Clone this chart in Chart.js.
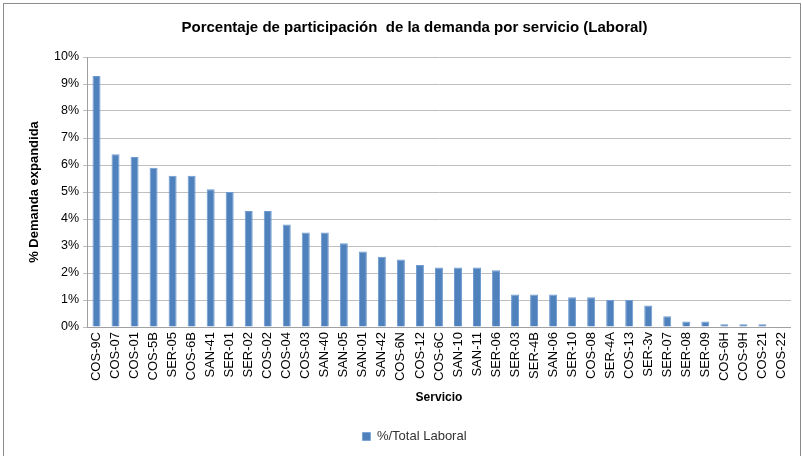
<!DOCTYPE html>
<html>
<head>
<meta charset="utf-8">
<script src="https://cdn.jsdelivr.net/npm/chart.js@4"></script>
<style>
  html, body { margin: 0; padding: 0; background: #fff; }
  #wrap { position: relative; width: 802px; height: 456px; }
  #frame { position: absolute; left: 3px; top: 3px; right: 1px; bottom: -2px; border: 1px solid #8c8c8c; pointer-events: none; }
</style>
</head>
<body>
<div id="wrap">
  <canvas id="chart" width="802" height="456"></canvas>
  <div id="frame"></div>
</div>
<script>
// Services, sorted by share of demand
const services = [
  'COS-9C', 'COS-07', 'COS-01', 'COS-5B', 'SER-05', 'COS-6B', 'SAN-41', 'SER-01',
  'SER-02', 'COS-02', 'COS-04', 'COS-03', 'SAN-40', 'SAN-05', 'SAN-01', 'SAN-42',
  'COS-6N', 'COS-12', 'COS-6C', 'SAN-10', 'SAN-11', 'SER-06', 'SER-03', 'SER-4B',
  'SAN-06', 'SER-10', 'COS-08', 'SER-4A', 'COS-13', 'SER-3v', 'SER-07', 'SER-08',
  'SER-09', 'COS-6H', 'COS-9H', 'COS-21', 'COS-22'
];

// % of total demand (Laboral)
const laboralPct = [
  9.3, 6.4, 6.3, 5.9, 5.6, 5.6, 5.1, 5.0,
  4.3, 4.3, 3.8, 3.5, 3.5, 3.1, 2.8, 2.6,
  2.5, 2.3, 2.2, 2.2, 2.2, 2.1, 1.2, 1.2,
  1.2, 1.1, 1.1, 1.0, 1.0, 0.8, 0.4, 0.2,
  0.2, 0.1, 0.1, 0.1, 0.0
];

const yTicks = [0, 1, 2, 3, 4, 5, 6, 7, 8, 9, 10];

const FONT = "'Liberation Sans', Arial, sans-serif";
const BAR = '#4f81bd';

const ctx = document.getElementById('chart').getContext('2d');
new Chart(ctx, {
  type: 'bar',
  data: {
    labels: services,
    datasets: [{
      label: '%/Total Laboral',
      data: laboralPct,
      backgroundColor: BAR,
      borderColor: '#6f9bd1',
      borderWidth: { left: 1, right: 1, top: 1, bottom: 0 },
      categoryPercentage: 1,
      barPercentage: 0.42,
    }]
  },
  options: {
    responsive: false,
    animation: false,
    layout: { padding: { left: 27, right: 0, top: 12, bottom: 3 } },
    plugins: {
      title: {
        display: true,
        text: 'Porcentaje de participación  de la demanda por servicio (Laboral)',
        color: '#000',
        font: { family: FONT, size: 15, weight: 'bold' },
        padding: { top: 7, bottom: 20 }
      },
      legend: {
        display: true,
        position: 'bottom',
        labels: {
          color: '#333',
          font: { family: FONT, size: 13 },
          boxWidth: 8,
          boxHeight: 8,
          padding: 10
        }
      },
      tooltip: { enabled: false }
    },
    scales: {
      x: {
        grid: { display: false, drawTicks: false },
        border: { color: '#a0a0a0' },
        ticks: {
          color: '#000',
          font: { family: FONT, size: 13 },
          maxRotation: 90,
          minRotation: 90,
          autoSkip: false,
          padding: 5
        },
        title: {
          display: true,
          text: 'Servicio',
          color: '#000',
          font: { family: FONT, size: 12, weight: 'bold' },
          padding: { top: 6, bottom: 15 }
        },
        afterFit: s => { s.height = 93; }
      },
      y: {
        min: 0,
        max: 10,
        afterBuildTicks: s => { s.ticks = yTicks.map(v => ({ value: v })); },
        grid: { color: '#bfbfbf', lineWidth: 1, drawTicks: true, tickLength: 4 },
        border: { color: '#a0a0a0' },
        ticks: {
          color: '#000',
          font: { family: FONT, size: 12.5 },
          padding: 4,
          callback: v => v + '%'
        },
        title: {
          display: true,
          text: '% Demanda expandida',
          color: '#000',
          font: { family: FONT, size: 13, weight: 'bold' },
          padding: { top: 0, bottom: 0 }
        },
        afterFit: s => { s.width = 60; }
      }
    }
  }
});
</script>
</body>
</html>
